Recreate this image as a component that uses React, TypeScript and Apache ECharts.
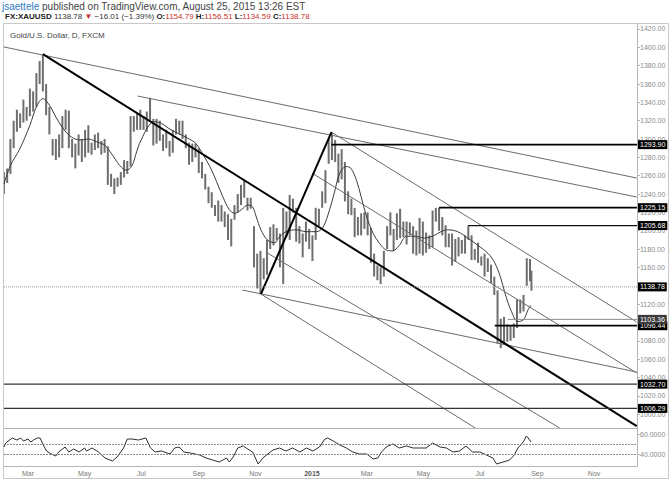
import React, { useEffect, useRef } from 'react';
import * as echarts from 'echarts';

const FONT = '"Liberation Sans", Arial, Helvetica, sans-serif';

// ---- header texts ----
const publisher = 'jsaettele';
const publishedText = ' published on TradingView.com, August 25, 2015 13:26 EST';
const symbolName = 'FX:XAUUSD';
const lastPriceText = '1138.78';
const changeText = '\u221216.01 (\u22121.39%)';
const ohlcLabels = ['O:', 'H:', 'L:', 'C:'];
const ohlcValues = ['1154.79', '1156.51', '1134.59', '1138.78'];
const legendTitle = 'Gold/U.S. Dollar, D, FXCM';

// ---- price bars: week start, [low, high] of Mon-Wed, [low, high] of Thu-Fri ----
const weeklyRanges: any[] = [
  ['2014-02-03', 1240, 1264, 1252, 1268],
  ['2014-02-10', 1262, 1300, 1290, 1320],
  ['2014-02-17', 1308, 1332, 1312, 1328],
  ['2014-02-24', 1318, 1343, 1320, 1335],
  ['2014-03-03', 1325, 1355, 1330, 1352],
  ['2014-03-10', 1335, 1372, 1360, 1385],
  ['2014-03-17', 1352, 1392, 1326, 1360],
  ['2014-03-24', 1305, 1335, 1282, 1300],
  ['2014-03-31', 1277, 1300, 1280, 1305],
  ['2014-04-07', 1290, 1325, 1310, 1332],
  ['2014-04-14', 1290, 1331, 1280, 1300],
  ['2014-04-21', 1268, 1295, 1282, 1305],
  ['2014-04-28', 1275, 1300, 1280, 1310],
  ['2014-05-05', 1285, 1315, 1283, 1296],
  ['2014-05-12', 1288, 1305, 1290, 1307],
  ['2014-05-19', 1283, 1298, 1285, 1300],
  ['2014-05-26', 1250, 1292, 1248, 1262],
  ['2014-06-02', 1240, 1257, 1248, 1258],
  ['2014-06-09', 1250, 1264, 1258, 1277],
  ['2014-06-16', 1262, 1276, 1270, 1325],
  ['2014-06-23', 1308, 1325, 1310, 1328],
  ['2014-06-30', 1310, 1332, 1310, 1325],
  ['2014-07-07', 1308, 1330, 1320, 1345],
  ['2014-07-14', 1293, 1322, 1295, 1322],
  ['2014-07-21', 1298, 1320, 1287, 1305],
  ['2014-07-28', 1290, 1310, 1281, 1298],
  ['2014-08-04', 1285, 1310, 1305, 1322],
  ['2014-08-11', 1305, 1320, 1300, 1320],
  ['2014-08-18', 1290, 1305, 1272, 1296],
  ['2014-08-25', 1275, 1295, 1280, 1295],
  ['2014-09-01', 1263, 1290, 1257, 1275],
  ['2014-09-08', 1245, 1262, 1230, 1248],
  ['2014-09-15', 1225, 1242, 1216, 1228],
  ['2014-09-22', 1210, 1233, 1210, 1228],
  ['2014-09-29', 1204, 1221, 1190, 1218],
  ['2014-10-06', 1183, 1213, 1212, 1228],
  ['2014-10-13', 1220, 1240, 1228, 1250],
  ['2014-10-20', 1236, 1255, 1222, 1236],
  ['2014-10-27', 1224, 1236, 1160, 1205],
  ['2014-11-03', 1137, 1175, 1131, 1178],
  ['2014-11-10', 1147, 1170, 1152, 1190],
  ['2014-11-17', 1180, 1204, 1184, 1207],
  ['2014-11-24', 1190, 1203, 1160, 1197],
  ['2014-12-01', 1142, 1225, 1193, 1221],
  ['2014-12-08', 1190, 1239, 1220, 1235],
  ['2014-12-15', 1188, 1225, 1186, 1205],
  ['2014-12-22', 1171, 1197, 1188, 1210],
  ['2014-12-29', 1180, 1202, 1167, 1195],
  ['2015-01-05', 1190, 1225, 1205, 1224],
  ['2015-01-12', 1225, 1243, 1230, 1266],
  ['2015-01-19', 1273, 1300, 1277, 1307],
  ['2015-01-26', 1275, 1299, 1252, 1284],
  ['2015-02-02', 1256, 1289, 1232, 1275],
  ['2015-02-09', 1218, 1243, 1217, 1235],
  ['2015-02-16', 1193, 1225, 1195, 1215],
  ['2015-02-23', 1195, 1219, 1202, 1220],
  ['2015-03-02', 1195, 1220, 1165, 1203],
  ['2015-03-09', 1150, 1175, 1146, 1162],
  ['2015-03-16', 1142, 1160, 1150, 1178],
  ['2015-03-23', 1180, 1205, 1195, 1220],
  ['2015-03-30', 1178, 1202, 1190, 1219],
  ['2015-04-06', 1192, 1224, 1193, 1210],
  ['2015-04-13', 1185, 1210, 1195, 1209],
  ['2015-04-20', 1175, 1205, 1173, 1200],
  ['2015-04-27', 1175, 1214, 1173, 1210],
  ['2015-05-04', 1176, 1198, 1180, 1195],
  ['2015-05-11', 1182, 1222, 1210, 1225],
  ['2015-05-18', 1200, 1225, 1195, 1215],
  ['2015-05-25', 1182, 1206, 1182, 1197],
  ['2015-06-01', 1162, 1197, 1166, 1191],
  ['2015-06-08', 1172, 1193, 1175, 1190],
  ['2015-06-15', 1175, 1195, 1190, 1205],
  ['2015-06-22', 1168, 1195, 1168, 1180],
  ['2015-06-29', 1165, 1187, 1162, 1172],
  ['2015-07-06', 1150, 1175, 1155, 1170],
  ['2015-07-13', 1143, 1163, 1130, 1150],
  ['2015-07-20', 1077, 1135, 1072, 1104],
  ['2015-07-27', 1077, 1106, 1079, 1098],
  ['2015-08-03', 1080, 1096, 1083, 1099],
  ['2015-08-10', 1094, 1125, 1110, 1125],
  ['2015-08-17', 1112, 1130, 1140, 1170],
  ['2015-08-24', 1145, 1169],
];
const lastBarDate = '2015-08-25';
const lastBarLow = 1134.59;
const lastBarHigh = 1156.51;

// ---- moving average ----
const maDates = [
  '2014-02-03', '2014-02-10', '2014-02-20', '2014-03-03', '2014-03-10', '2014-03-17', '2014-03-24', '2014-03-31',
  '2014-04-09', '2014-04-17', '2014-04-26', '2014-05-05', '2014-05-14', '2014-05-23', '2014-05-30', '2014-06-08',
  '2014-06-15', '2014-06-21', '2014-06-26', '2014-06-29', '2014-07-01', '2014-07-08', '2014-07-15', '2014-07-23',
  '2014-07-30', '2014-08-10', '2014-08-20', '2014-08-29', '2014-09-05', '2014-09-13', '2014-09-20', '2014-09-27',
  '2014-10-04', '2014-10-10', '2014-10-17', '2014-10-24', '2014-10-29', '2014-11-02', '2014-11-07', '2014-11-14',
  '2014-11-22', '2014-11-26', '2014-12-04', '2014-12-15', '2014-12-26', '2015-01-06', '2015-01-13', '2015-01-20',
  '2015-01-25', '2015-01-31', '2015-02-07', '2015-02-12', '2015-02-18', '2015-02-23', '2015-03-01', '2015-03-08',
  '2015-03-15', '2015-03-22', '2015-03-29', '2015-04-05', '2015-04-13', '2015-04-22', '2015-05-02', '2015-05-13',
  '2015-05-20', '2015-05-27', '2015-06-07', '2015-06-18', '2015-06-29', '2015-07-10', '2015-07-17', '2015-07-23',
  '2015-07-28', '2015-08-04', '2015-08-11', '2015-08-17', '2015-08-22', '2015-08-25',
];
const maValues = [
  1251, 1271, 1289, 1315, 1335, 1344, 1337, 1324,
  1310, 1302, 1299, 1300, 1297, 1293, 1284, 1271,
  1266, 1271, 1286, 1295, 1299, 1313, 1319, 1317,
  1312, 1306, 1301, 1295, 1284, 1270, 1254, 1237,
  1223, 1219, 1223, 1228, 1226, 1215, 1201, 1190,
  1187, 1192, 1199, 1201, 1199, 1199, 1204, 1223,
  1241, 1263, 1270, 1268, 1255, 1237, 1215, 1197,
  1186, 1179, 1178, 1184, 1194, 1194, 1192, 1195,
  1199, 1201, 1199, 1192, 1184, 1175, 1165, 1150,
  1132, 1112, 1101, 1103, 1114, 1119,
];

// ---- RSI ----
const rsiDates = [
  '2014-02-03', '2014-02-05', '2014-02-12', '2014-02-17', '2014-02-21', '2014-02-24', '2014-03-01', '2014-03-04',
  '2014-03-07', '2014-03-11', '2014-03-14', '2014-03-18', '2014-03-21', '2014-03-26', '2014-03-31', '2014-04-03',
  '2014-04-10', '2014-04-14', '2014-04-19', '2014-04-25', '2014-05-01', '2014-05-03', '2014-05-09', '2014-05-16',
  '2014-05-23', '2014-05-31', '2014-06-05', '2014-06-12', '2014-06-16', '2014-06-21', '2014-06-28', '2014-07-06',
  '2014-07-11', '2014-07-16', '2014-07-23', '2014-08-01', '2014-08-06', '2014-08-11', '2014-08-16', '2014-08-23',
  '2014-09-02', '2014-09-09', '2014-09-16', '2014-09-23', '2014-10-01', '2014-10-04', '2014-10-08', '2014-10-13',
  '2014-10-19', '2014-10-22', '2014-10-29', '2014-11-04', '2014-11-09', '2014-11-13', '2014-11-20', '2014-11-27',
  '2014-12-04', '2014-12-11', '2014-12-19', '2014-12-26', '2015-01-02', '2015-01-09', '2015-01-15', '2015-01-18',
  '2015-01-24', '2015-01-31', '2015-02-07', '2015-02-14', '2015-02-21', '2015-03-01', '2015-03-08', '2015-03-13',
  '2015-03-17', '2015-03-22', '2015-03-29', '2015-04-05', '2015-04-13', '2015-04-20', '2015-04-27', '2015-05-04',
  '2015-05-11', '2015-05-19', '2015-05-26', '2015-06-02', '2015-06-09', '2015-06-16', '2015-06-23', '2015-07-01',
  '2015-07-08', '2015-07-15', '2015-07-19', '2015-07-26', '2015-08-02', '2015-08-07', '2015-08-11', '2015-08-15',
  '2015-08-18', '2015-08-20', '2015-08-22', '2015-08-25',
];
const rsiValues = [
  47, 51, 56, 54, 56, 53, 55, 52,
  54, 56, 56, 48, 43, 40, 38, 42,
  47, 42, 45, 42, 46, 43, 46, 42,
  36, 33, 37, 46, 55, 55, 54, 56,
  46, 42, 43, 40, 46, 47, 42, 41,
  39, 36, 34, 32, 36, 32, 37, 46,
  48, 46, 42, 30, 36, 39, 44, 46,
  43, 46, 42, 46, 43, 47, 55, 56,
  53, 49, 46, 42, 40, 40, 35, 36,
  42, 47, 50, 46, 48, 46, 46, 46,
  51, 47, 46, 42, 43, 48, 42, 42,
  39, 36, 30, 32, 34, 39, 46, 50,
  54, 58, 56, 52,
];

// ---- axes ----
const priceTicks = [1000, 1020, 1040, 1060, 1080, 1100, 1120, 1140, 1160, 1180, 1200, 1220, 1240, 1260, 1280, 1300, 1320, 1340, 1360, 1380, 1400, 1420];
const rsiTicks = [60, 40];
const rsiBands = [50, 40];
const monthTickDates = ['2014-03-01', '2014-05-01', '2014-07-01', '2014-09-01', '2014-11-01', '2015-01-01', '2015-03-01', '2015-05-01', '2015-07-01', '2015-09-01', '2015-11-01'];
const monthTickLabels = ['Mar', 'May', 'Jul', 'Sep', 'Nov', '2015', 'Mar', 'May', 'Jul', 'Sep', 'Nov'];

// ---- drawings: [fromDate, fromPrice, toDate, toPrice, thick] ----
const trendLines: any[] = [
  ['2014-02-03', 1400.4, '2015-12-17', 1257.5, false],
  ['2014-06-27', 1346.9, '2015-12-17', 1236.8, false],
  ['2014-03-17', 1392.5, '2015-12-17', 987.0, true],
  ['2014-11-07', 1131.0, '2015-01-22', 1307.5, true],
  ['2015-01-22', 1307.5, '2015-12-17', 1100.5, false],
  ['2015-01-01', 1262.9, '2015-12-17', 1044.9, false],
  ['2014-10-18', 1135.4, '2015-12-17', 1045.9, false],
  ['2014-11-07', 1131.0, '2015-06-26', 984.9, false],
  ['2014-11-14', 1175.7, '2015-09-25', 984.9, false],
];

// horizontal levels: price, start date (null = whole width), line style kind, tag colour
const levelPrices = [1293.9, 1225.15, 1205.68, 1138.78, 1096.44, 1103.36, 1032.7, 1006.29];
const levelStarts = ['2015-01-22', '2015-05-18', '2015-06-18', null, '2015-07-17', '2015-07-31', null, null];
const levelKinds = ['bold', 'bold', 'medium', 'dotted', 'bold', 'thin', 'dark', 'dark'];
const levelTagColors = ['#000', '#000', '#000', '#000', '#000', '#3a3a3a', '#000', '#000'];

const BASE = Date.UTC(2014, 0, 1);
const dayNum = (s: string) => (Date.parse(s + 'T00:00:00Z') - BASE) / 86400000;
const X_MIN = 33.1;
const X_MAX = 715.3;

function buildOption() {
  const bars: number[][] = [];
  weeklyRanges.forEach((w) => {
    const d = dayNum(w[0]);
    bars.push([d, w[1], w[2]]);
    if (w.length > 3) bars.push([d + 3.5, w[3], w[4]]);
  });
  bars.push([dayNum(lastBarDate) + 0.5, lastBarLow, lastBarHigh]);

  const series: any[] = [];

  series.push({
    type: 'custom',
    xAxisIndex: 0,
    yAxisIndex: 0,
    silent: true,
    clip: true,
    z: 1,
    data: bars,
    encode: { x: 0, y: [1, 2] },
    renderItem: (params: any, api: any) => {
      const x = api.value(0);
      const top = api.coord([x, api.value(2)]);
      const bot = api.coord([x, api.value(1)]);
      return {
        type: 'rect',
        shape: { x: top[0] - 1, y: top[1], width: 2, height: Math.max(1, bot[1] - top[1]) },
        style: { fill: '#6e6e6e' },
      };
    },
  });

  series.push({
    type: 'line',
    xAxisIndex: 0,
    yAxisIndex: 0,
    data: maDates.map((d, i) => [dayNum(d), maValues[i]]),
    symbol: 'none',
    smooth: 0.35,
    silent: true,
    z: 3,
    lineStyle: { color: '#3c3c3c', width: 1 },
  });

  trendLines.forEach((t) => {
    series.push({
      type: 'line',
      xAxisIndex: 0,
      yAxisIndex: 0,
      data: [[dayNum(t[0]), t[1]], [dayNum(t[2]), t[3]]],
      symbol: 'none',
      silent: true,
      clip: true,
      z: t[4] ? 5 : 4,
      lineStyle: { color: t[4] ? '#000' : '#6a6a6a', width: t[4] ? 2 : 1 },
    });
  });

  const kindStyle: any = {
    bold: { color: '#000', width: 1.7, type: 'solid' },
    medium: { color: '#111', width: 1.3, type: 'solid' },
    dotted: { color: '#9a9a9a', width: 1, type: [1, 1] },
    thin: { color: '#8a8a8a', width: 1, type: 'solid' },
    dark: { color: '#333', width: 1.2, type: 'solid' },
  };
  levelPrices.forEach((p, i) => {
    const start = levelStarts[i] ? dayNum(levelStarts[i] as string) : X_MIN;
    series.push({
      type: 'line',
      xAxisIndex: 0,
      yAxisIndex: 0,
      data: [[start, p], [X_MAX, p]],
      symbol: 'none',
      silent: true,
      clip: false,
      z: 6 + i,
      lineStyle: kindStyle[levelKinds[i]],
      endLabel: {
        show: true,
        formatter: p.toFixed(2),
        color: '#fff',
        backgroundColor: levelTagColors[i],
        fontSize: 7,
        fontFamily: FONT,
        padding: [1, 2, 1, 2],
        distance: 1,
      },
    });
  });

  series.push({
    type: 'line',
    xAxisIndex: 1,
    yAxisIndex: 1,
    data: rsiDates.map((d, i) => [dayNum(d), rsiValues[i]]),
    symbol: 'none',
    silent: true,
    z: 3,
    lineStyle: { color: '#2e2e2e', width: 1 },
    markLine: {
      silent: true,
      symbol: 'none',
      label: { show: false },
      lineStyle: { color: '#8a8a8a', type: [2, 1], width: 1 },
      data: rsiBands.map((v) => ({ yAxis: v })),
    },
  });

  const monthDays = monthTickDates.map(dayNum);

  return {
    animation: false,
    backgroundColor: '#fff',
    textStyle: { fontFamily: FONT },
    grid: [
      { left: 4, right: 34, top: 24, height: 404, outerBoundsMode: 'none' },
      { left: 4, right: 34, top: 428, height: 38, outerBoundsMode: 'none' },
    ],
    xAxis: [
      {
        type: 'value', gridIndex: 0, min: X_MIN, max: X_MAX,
        axisLine: { show: false }, axisTick: { show: false }, axisLabel: { show: false }, splitLine: { show: false },
      },
      {
        type: 'value', gridIndex: 1, min: X_MIN, max: X_MAX,
        axisLine: { show: true, lineStyle: { color: '#b4b4b4' } },
        axisTick: { show: false },
        splitLine: { show: false },
        axisLabel: {
          customValues: monthDays,
          fontSize: 7,
          color: '#777',
          margin: 4,
          fontFamily: FONT,
          formatter: (v: number) => {
            let idx = 0;
            let best = 1e9;
            monthDays.forEach((d, i) => { if (Math.abs(d - v) < best) { best = Math.abs(d - v); idx = i; } });
            const s = monthTickLabels[idx];
            return /^\d{4}$/.test(s) ? '{y|' + s + '}' : s;
          },
          rich: { y: { fontWeight: 'bold', color: '#555', fontSize: 7, fontFamily: FONT } },
        },
      },
    ],
    yAxis: [
      {
        type: 'value', gridIndex: 0, position: 'right', min: 984.9, max: 1425.45,
        axisLine: { show: true, lineStyle: { color: '#b4b4b4' } },
        axisTick: { show: true, customValues: priceTicks, length: 3, lineStyle: { color: '#b4b4b4' } },
        splitLine: { show: false },
        axisLabel: {
          customValues: priceTicks, fontSize: 7, color: '#8a8a8a', margin: 3, fontFamily: FONT,
          formatter: (v: number) => v.toFixed(2),
        },
      },
      {
        type: 'value', gridIndex: 1, position: 'right', min: 28, max: 66,
        axisLine: { show: true, lineStyle: { color: '#b4b4b4' } },
        axisTick: { show: true, customValues: rsiTicks, length: 3, lineStyle: { color: '#b4b4b4' } },
        splitLine: { show: false },
        axisLabel: {
          customValues: rsiTicks, fontSize: 7, color: '#8a8a8a', margin: 3, fontFamily: FONT,
          formatter: (v: number) => v.toFixed(4),
        },
      },
    ],
    graphic: [
      {
        type: 'rect', silent: true, z: -1,
        shape: { x: 3.5, y: 23.5, width: 665, height: 455 },
        style: { fill: 'none', stroke: '#c8c8c8', lineWidth: 1 },
      },
      {
        type: 'line', silent: true,
        shape: { x1: 3.5, y1: 428.5, x2: 637, y2: 428.5 },
        style: { stroke: '#b4b4b4', lineWidth: 1 },
      },
      {
        type: 'text', x: 2, y: 6, silent: true,
        style: {
          text: '{u|' + publisher + '}{t|' + publishedText + '}',
          verticalAlign: 'middle',
          rich: {
            u: { fill: '#2e7cc4', fontSize: 10, fontFamily: FONT },
            t: { fill: '#444', fontSize: 10, fontFamily: FONT },
          },
        },
      },
      {
        type: 'text', x: 5, y: 16, silent: true,
        style: {
          text:
            '{b|' + symbolName + '} {n|' + lastPriceText + '} {r|\u25BC} {n|' + changeText + '} ' +
            ohlcLabels.map((l, i) => '{b|' + l + '}{r|' + ohlcValues[i] + '}').join(' '),
          verticalAlign: 'middle',
          fill: '#333',
          fontSize: 8,
          fontFamily: FONT,
          rich: {
            b: { fill: '#222', fontSize: 8, fontWeight: 'bold', fontFamily: FONT },
            n: { fill: '#333', fontSize: 8, fontFamily: FONT },
            r: { fill: '#c8322c', fontSize: 8, fontFamily: FONT },
          },
        },
      },
      {
        type: 'text', x: 10, y: 35, silent: true,
        style: { text: legendTitle, fill: '#444', fontSize: 8, fontFamily: FONT, verticalAlign: 'middle' },
      },
    ],
    series,
  };
}

export default function App() {
  const ref = useRef<HTMLDivElement>(null);
  useEffect(() => {
    const chart = echarts.init(ref.current as HTMLDivElement, null, { renderer: 'svg' });
    chart.setOption(buildOption() as any);
    return () => chart.dispose();
  }, []);
  return (
    <div
      ref={ref}
      style={{ position: 'fixed', left: 0, top: 0, width: 671, height: 481, background: '#fff' }}
    />
  );
}
